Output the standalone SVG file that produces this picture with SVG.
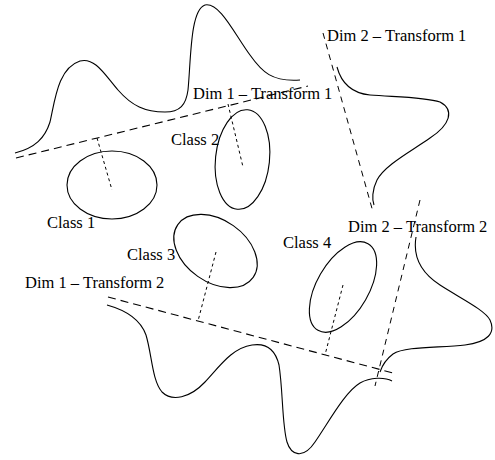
<svg xmlns="http://www.w3.org/2000/svg" width="495" height="460" viewBox="0 0 495 460">
<style>
.c{fill:none;stroke:#000;stroke-width:1.1}
.ax{fill:none;stroke:#000;stroke-width:1.1;stroke-dasharray:8,5}
.ax2{fill:none;stroke:#000;stroke-width:1;stroke-dasharray:6,5}
.pp{fill:none;stroke:#000;stroke-width:1;stroke-dasharray:3,3}
.e{fill:none;stroke:#000;stroke-width:1.1}
text{font-family:"Liberation Serif","Times New Roman",serif;font-size:16.5px;fill:#000}
</style>
<rect width="495" height="460" fill="#fff"/>
<g id="distributions">
<path class="c" d="M15,153 C35,148 45,138 50,122 C55,100 58,68 80,61 C95,57 105,75 118,90 C132,106 145,112 165,112 C180,112 186,105 188,90 C191,60 190,10 205,5 C220,2 235,35 250,55 C262,72 272,82 300,80"/>
<path class="c" d="M337,67 C341,82 350,93 370,95 C395,97 425,97 440,102 C455,110 450,125 430,138 C410,152 385,165 377,180 C372,190 372,200 374,205"/>
<path class="c" d="M416,237 C413,255 420,272 440,285 C460,298 485,310 490,320 C496,333 488,342 465,345 C440,348 405,346 393,354 C385,360 382,366 380,372"/>
<path class="c" d="M107,305 C125,310 140,318 146,335 C152,355 152,380 162,392 C172,402 190,398 205,382 C220,366 232,348 252,345 C265,343 275,348 279,365 C283,390 282,425 287,442 C291,455 303,460 315,442 C330,420 345,392 360,383 C370,377 385,377 392,381"/>
</g>
<g id="connectors">
<line class="ax" x1="16" y1="158" x2="308" y2="86"/>
<line class="ax" x1="108" y1="297" x2="393" y2="373"/>
<line class="ax2" x1="323" y1="33" x2="373" y2="212"/>
<line class="ax2" x1="420" y1="200" x2="375" y2="386"/>
<line class="pp" x1="97" y1="138" x2="112" y2="190"/>
<line class="pp" x1="228" y1="104" x2="243" y2="167"/>
<line class="pp" x1="216" y1="252" x2="198" y2="321"/>
<line class="pp" x1="343" y1="285" x2="325" y2="355"/>
</g>
<g id="class1"><ellipse class="e" cx="112" cy="185" rx="45" ry="34"/><text x="47" y="228">Class 1</text></g>
<g id="class2"><ellipse class="e" cx="242.5" cy="159.5" rx="27" ry="50" transform="rotate(6 242.5 159.5)"/><text x="171" y="145">Class 2</text></g>
<g id="class3"><ellipse class="e" cx="215.5" cy="251" rx="46" ry="31" transform="rotate(35 215.5 251)"/><text x="127" y="260">Class 3</text></g>
<g id="class4"><ellipse class="e" cx="343" cy="287" rx="26" ry="50" transform="rotate(30 343 287)"/><text x="283" y="248">Class 4</text></g>
<g id="labels">
<text x="193" y="99">Dim 1 – Transform 1</text>
<text x="327" y="41">Dim 2 – Transform 1</text>
<text x="348" y="232">Dim 2 – Transform 2</text>
<text x="25" y="288">Dim 1 – Transform 2</text>
</g>
</svg>
